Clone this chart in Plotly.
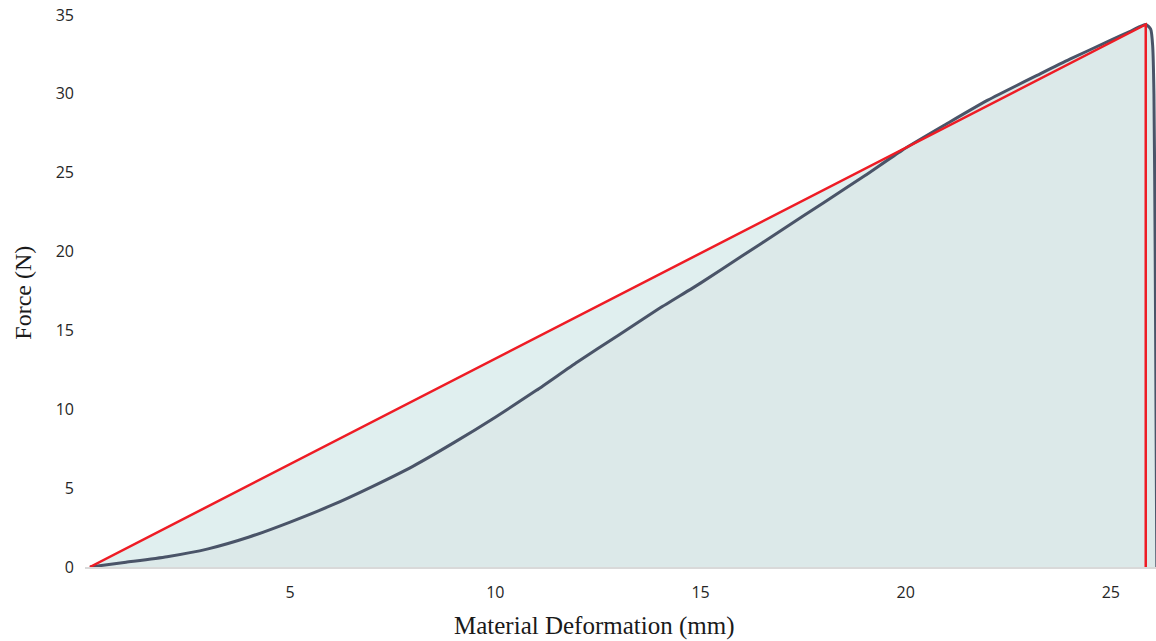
import plotly.graph_objects as go

# Force-deformation curve
deformation_mm = [0.12, 1, 2, 3, 4, 5, 6, 7, 8, 9, 10, 11, 12, 13, 14, 15, 16,
                  17, 18, 19, 19.9, 21, 22, 23.3, 24, 25, 25.5, 25.85, 25.97, 26.02,
                  26.05, 26.08, 26.1, 26.12]
force_n = [0, 0.3, 0.65, 1.15, 1.9, 2.85, 3.9, 5.1, 6.4, 7.9, 9.5, 11.2, 13.0, 14.7,
           16.4, 18.0, 19.7, 21.4, 23.1, 24.8, 26.4, 28.1, 29.6, 31.3, 32.2,
           33.4, 34.0, 34.4, 34.1, 33.0, 30, 20, 10, 0]

# Linear (secant) reference triangle
secant_x = [0.12, 25.85, 25.85]
secant_y = [0, 34.4, 0]

x_ticks = [5, 10, 15, 20, 25]
y_ticks = [0, 5, 10, 15, 20, 25, 30, 35]

fig = go.Figure()
fig.add_trace(go.Scatter(x=secant_x + [secant_x[0]], y=secant_y + [secant_y[0]],
                         mode="lines", fill="toself", fillcolor="#e0efef",
                         line=dict(width=0), hoverinfo="skip", showlegend=False))
fig.add_trace(go.Scatter(x=deformation_mm, y=force_n, mode="lines", fill="tozeroy",
                         fillcolor="#dce9e9", line=dict(color="#4a5468", width=3, shape="spline", smoothing=0.6),
                         showlegend=False))
fig.add_trace(go.Scatter(x=secant_x, y=secant_y, mode="lines",
                         line=dict(color="#ee1c25", width=2.5), showlegend=False))

fig.update_layout(
    width=1156, height=641,
    margin=dict(l=85, r=0, t=15, b=74, autoexpand=False),
    paper_bgcolor="white", plot_bgcolor="white",
    font=dict(family="Open Sans, Noto Sans, sans-serif", size=16, color="#262626"),
    xaxis=dict(range=[0, 26.1], tickvals=x_ticks, showgrid=False, zeroline=False,
               showline=True, linecolor="#d9d9d9", linewidth=1.5, ticks="",
               ticklabelstandoff=10, tickfont=dict(size=16), automargin=False),
    yaxis=dict(range=[0, 35], tickvals=y_ticks, showgrid=False, zeroline=False,
               showline=False, ticks="", ticklabelstandoff=10, tickfont=dict(size=16),
               automargin=False),
    annotations=[
        dict(text="Material Deformation (mm)", xref="paper", yref="paper", x=0.475, y=0,
             yshift=-59, xanchor="center", yanchor="middle", showarrow=False,
             font=dict(family="Liberation Serif, serif", size=25, color="#1a1a1a")),
        dict(text="Force (N)", xref="paper", yref="paper", x=0, y=0.497, xshift=-62,
             textangle=-90, xanchor="center", yanchor="middle", showarrow=False,
             font=dict(family="Liberation Serif, serif", size=24, color="#1a1a1a")),
    ],
)

fig.write_html("out.html", config={"displayModeBar": False},
               post_script="document.body.style.margin='0';document.body.style.overflow='hidden';")
